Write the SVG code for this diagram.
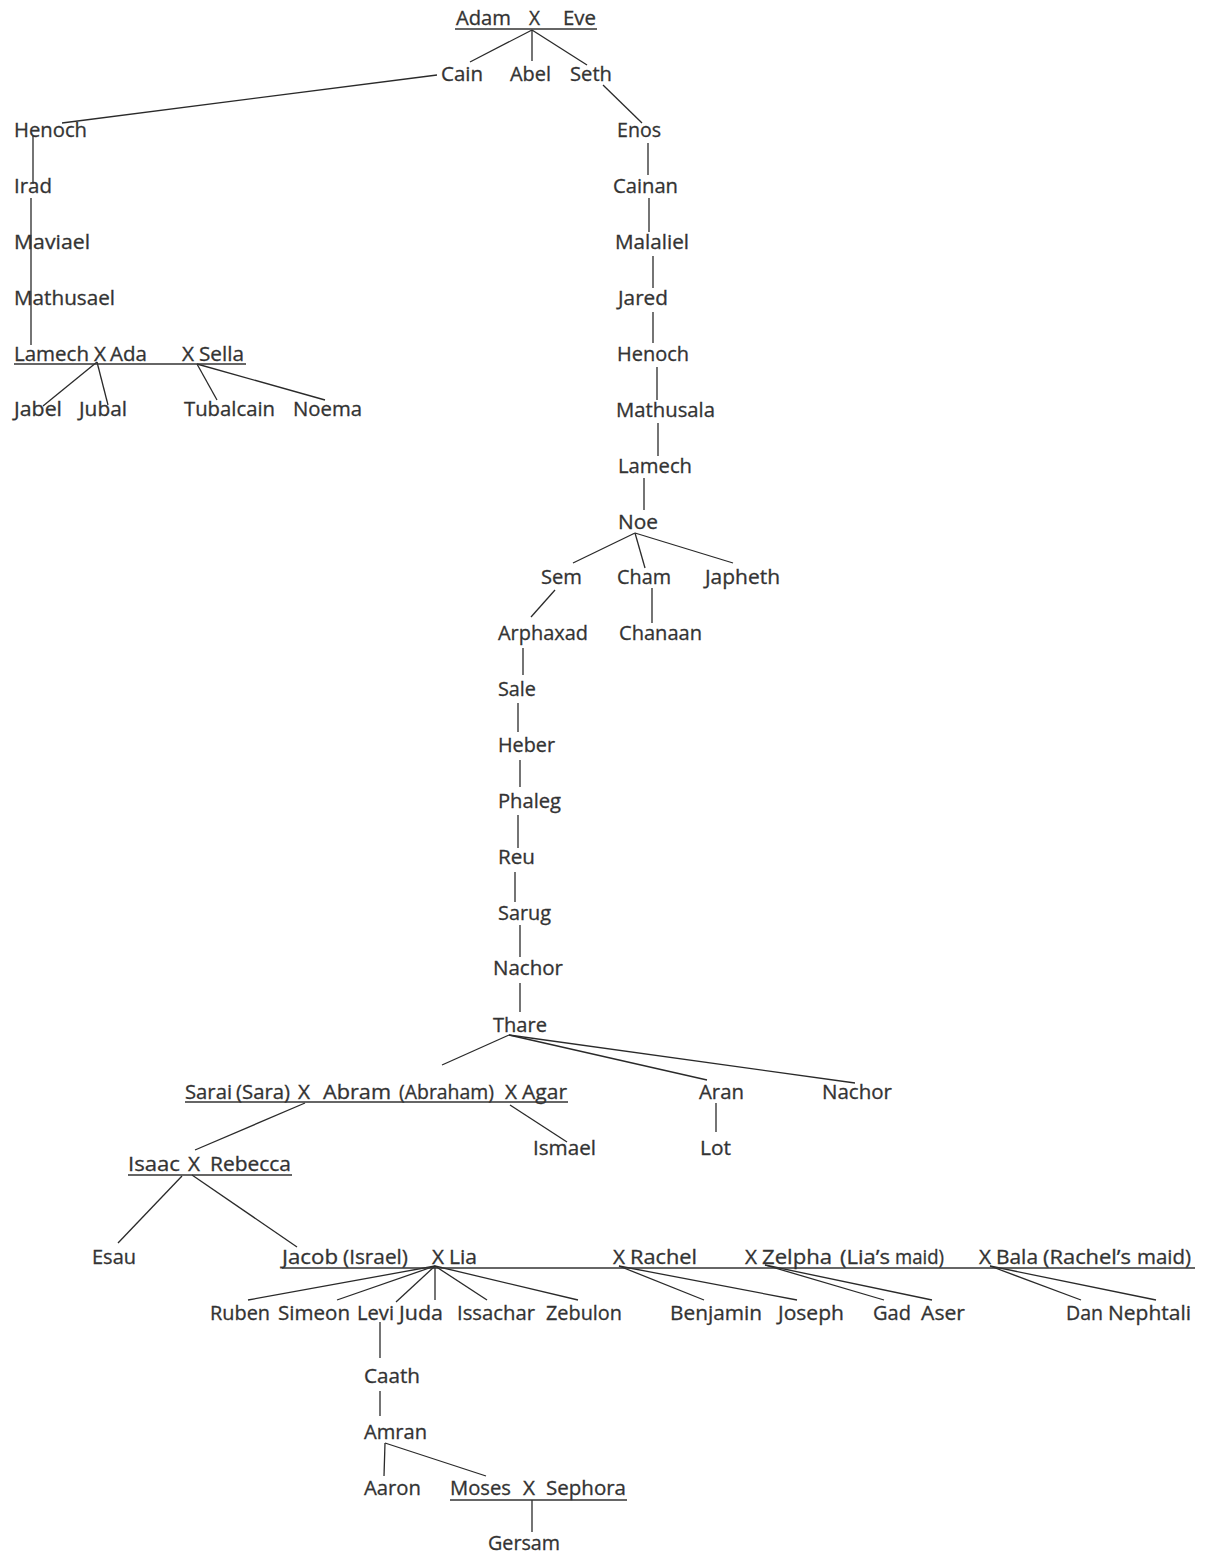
<svg xmlns="http://www.w3.org/2000/svg" width="1205" height="1557" viewBox="0 0 1205 1557">
<style>
text{font-family:"Open Sans","Liberation Sans",sans-serif;font-size:19.5px;fill:#333;stroke:#333;stroke-width:0.3}
.c line{stroke:#2a2a2a;stroke-width:1.3;fill:none}
.u{stroke:#333;stroke-width:1.6}
</style>
<rect width="1205" height="1557" fill="#fff"/>
<g class="c" id="connectors">
<line x1="532" y1="30" x2="470" y2="62"/>
<line x1="532" y1="30" x2="532" y2="61"/>
<line x1="532" y1="30" x2="587" y2="65"/>
<line x1="437" y1="75" x2="62" y2="123"/>
<line x1="33" y1="136" x2="33" y2="184"/>
<line x1="31" y1="198" x2="31" y2="345"/>
<line x1="97" y1="362" x2="43" y2="406"/>
<line x1="97" y1="362" x2="108" y2="405"/>
<line x1="197" y1="364" x2="217" y2="400"/>
<line x1="197" y1="364" x2="325" y2="400"/>
<line x1="603" y1="85" x2="642" y2="123"/>
<line x1="648" y1="143" x2="648" y2="175"/>
<line x1="649" y1="198" x2="649" y2="232"/>
<line x1="653" y1="256" x2="653" y2="288"/>
<line x1="653" y1="312" x2="653" y2="343"/>
<line x1="657" y1="367" x2="657" y2="400"/>
<line x1="658" y1="423" x2="658" y2="456"/>
<line x1="644" y1="478" x2="644" y2="510"/>
<line x1="635" y1="533" x2="573" y2="563"/>
<line x1="635" y1="533" x2="645" y2="568"/>
<line x1="635" y1="533" x2="733" y2="563"/>
<line x1="652" y1="588" x2="652" y2="623"/>
<line x1="555" y1="590" x2="531" y2="617"/>
<line x1="523" y1="648" x2="523" y2="675"/>
<line x1="518" y1="703" x2="518" y2="732"/>
<line x1="520" y1="760" x2="520" y2="787"/>
<line x1="518" y1="815" x2="518" y2="848"/>
<line x1="515" y1="872" x2="515" y2="902"/>
<line x1="520" y1="925" x2="520" y2="957"/>
<line x1="520" y1="983" x2="520" y2="1012"/>
<line x1="509" y1="1035" x2="442" y2="1065"/>
<line x1="509" y1="1035" x2="707" y2="1080"/>
<line x1="509" y1="1035" x2="855" y2="1083"/>
<line x1="305" y1="1103" x2="195" y2="1150"/>
<line x1="510" y1="1105" x2="567" y2="1142"/>
<line x1="716" y1="1103" x2="716" y2="1132"/>
<line x1="182" y1="1176" x2="118" y2="1243"/>
<line x1="192" y1="1175" x2="297" y2="1247"/>
<line x1="435" y1="1266" x2="248" y2="1300"/>
<line x1="435" y1="1266" x2="337" y2="1300"/>
<line x1="435" y1="1266" x2="396" y2="1302"/>
<line x1="435" y1="1266" x2="435" y2="1300"/>
<line x1="435" y1="1266" x2="487" y2="1300"/>
<line x1="435" y1="1266" x2="578" y2="1300"/>
<line x1="619" y1="1266" x2="704" y2="1300"/>
<line x1="619" y1="1266" x2="797" y2="1300"/>
<line x1="765" y1="1265" x2="884" y2="1300"/>
<line x1="765" y1="1265" x2="932" y2="1300"/>
<line x1="990" y1="1266" x2="1081" y2="1300"/>
<line x1="990" y1="1266" x2="1156" y2="1300"/>
<line x1="380" y1="1322" x2="380" y2="1358"/>
<line x1="380" y1="1391" x2="380" y2="1416"/>
<line x1="385" y1="1443" x2="384" y2="1476"/>
<line x1="385" y1="1443" x2="486" y2="1476"/>
<line x1="532" y1="1500" x2="532" y2="1532"/>
</g>
<g id="adam-eve"><text x="456" y="25" textLength="55" lengthAdjust="spacingAndGlyphs">Adam</text><text x="529" y="25" textLength="11" lengthAdjust="spacingAndGlyphs">X</text><text x="563" y="25" textLength="33" lengthAdjust="spacingAndGlyphs">Eve</text><line class="u" x1="455" y1="29" x2="597" y2="29"/></g>
<g id="cain"><text x="441" y="81" textLength="42" lengthAdjust="spacingAndGlyphs">Cain</text></g>
<g id="abel"><text x="510" y="81" textLength="41" lengthAdjust="spacingAndGlyphs">Abel</text></g>
<g id="seth"><text x="570" y="81" textLength="42" lengthAdjust="spacingAndGlyphs">Seth</text></g>
<g id="henoch1"><text x="14" y="137" textLength="73" lengthAdjust="spacingAndGlyphs">Henoch</text></g>
<g id="irad"><text x="14" y="193" textLength="38" lengthAdjust="spacingAndGlyphs">Irad</text></g>
<g id="maviael"><text x="14" y="249" textLength="76" lengthAdjust="spacingAndGlyphs">Maviael</text></g>
<g id="mathusael"><text x="14" y="305" textLength="101" lengthAdjust="spacingAndGlyphs">Mathusael</text></g>
<g id="lamech1"><text x="14" y="361" textLength="75" lengthAdjust="spacingAndGlyphs">Lamech</text><text x="94" y="361" textLength="12" lengthAdjust="spacingAndGlyphs">X</text><text x="110" y="361" textLength="37" lengthAdjust="spacingAndGlyphs">Ada</text><text x="182" y="361" textLength="12" lengthAdjust="spacingAndGlyphs">X</text><text x="199" y="361" textLength="45" lengthAdjust="spacingAndGlyphs">Sella</text><line class="u" x1="14" y1="364" x2="246" y2="364"/></g>
<g id="jabel"><text x="14" y="416" textLength="48" lengthAdjust="spacingAndGlyphs">Jabel</text></g>
<g id="jubal"><text x="79" y="416" textLength="48" lengthAdjust="spacingAndGlyphs">Jubal</text></g>
<g id="tubalcain"><text x="184" y="416" textLength="91" lengthAdjust="spacingAndGlyphs">Tubalcain</text></g>
<g id="noema"><text x="293" y="416" textLength="69" lengthAdjust="spacingAndGlyphs">Noema</text></g>
<g id="enos"><text x="617" y="137" textLength="44" lengthAdjust="spacingAndGlyphs">Enos</text></g>
<g id="cainan"><text x="613" y="193" textLength="65" lengthAdjust="spacingAndGlyphs">Cainan</text></g>
<g id="malaliel"><text x="615" y="249" textLength="74" lengthAdjust="spacingAndGlyphs">Malaliel</text></g>
<g id="jared"><text x="618" y="305" textLength="50" lengthAdjust="spacingAndGlyphs">Jared</text></g>
<g id="henoch2"><text x="617" y="361" textLength="72" lengthAdjust="spacingAndGlyphs">Henoch</text></g>
<g id="mathusala"><text x="616" y="417" textLength="99" lengthAdjust="spacingAndGlyphs">Mathusala</text></g>
<g id="lamech2"><text x="618" y="473" textLength="74" lengthAdjust="spacingAndGlyphs">Lamech</text></g>
<g id="noe"><text x="618" y="529" textLength="40" lengthAdjust="spacingAndGlyphs">Noe</text></g>
<g id="sem"><text x="541" y="584" textLength="41" lengthAdjust="spacingAndGlyphs">Sem</text></g>
<g id="cham"><text x="617" y="584" textLength="54" lengthAdjust="spacingAndGlyphs">Cham</text></g>
<g id="japheth"><text x="705" y="584" textLength="75" lengthAdjust="spacingAndGlyphs">Japheth</text></g>
<g id="chanaan"><text x="619" y="640" textLength="83" lengthAdjust="spacingAndGlyphs">Chanaan</text></g>
<g id="arphaxad"><text x="498" y="640" textLength="90" lengthAdjust="spacingAndGlyphs">Arphaxad</text></g>
<g id="sale"><text x="498" y="696" textLength="38" lengthAdjust="spacingAndGlyphs">Sale</text></g>
<g id="heber"><text x="498" y="752" textLength="57" lengthAdjust="spacingAndGlyphs">Heber</text></g>
<g id="phaleg"><text x="498" y="808" textLength="63" lengthAdjust="spacingAndGlyphs">Phaleg</text></g>
<g id="reu"><text x="498" y="864" textLength="37" lengthAdjust="spacingAndGlyphs">Reu</text></g>
<g id="sarug"><text x="498" y="920" textLength="53" lengthAdjust="spacingAndGlyphs">Sarug</text></g>
<g id="nachor1"><text x="493" y="975" textLength="70" lengthAdjust="spacingAndGlyphs">Nachor</text></g>
<g id="thare"><text x="493" y="1032" textLength="54" lengthAdjust="spacingAndGlyphs">Thare</text></g>
<g id="abram"><text x="185" y="1099" textLength="47" lengthAdjust="spacingAndGlyphs">Sarai</text><text x="236" y="1099" textLength="54" lengthAdjust="spacingAndGlyphs">(Sara)</text><text x="298" y="1099" textLength="12" lengthAdjust="spacingAndGlyphs">X</text><text x="323" y="1099" textLength="68" lengthAdjust="spacingAndGlyphs">Abram</text><text x="399" y="1099" textLength="95" lengthAdjust="spacingAndGlyphs">(Abraham)</text><text x="505" y="1099" textLength="12" lengthAdjust="spacingAndGlyphs">X</text><text x="522" y="1099" textLength="45" lengthAdjust="spacingAndGlyphs">Agar</text><line class="u" x1="185" y1="1102" x2="568" y2="1102"/></g>
<g id="aran"><text x="699" y="1099" textLength="45" lengthAdjust="spacingAndGlyphs">Aran</text></g>
<g id="nachor2"><text x="822" y="1099" textLength="70" lengthAdjust="spacingAndGlyphs">Nachor</text></g>
<g id="ismael"><text x="533" y="1155" textLength="63" lengthAdjust="spacingAndGlyphs">Ismael</text></g>
<g id="lot"><text x="700" y="1155" textLength="31" lengthAdjust="spacingAndGlyphs">Lot</text></g>
<g id="isaac"><text x="128" y="1171" textLength="52" lengthAdjust="spacingAndGlyphs">Isaac</text><text x="188" y="1171" textLength="12" lengthAdjust="spacingAndGlyphs">X</text><text x="210" y="1171" textLength="81" lengthAdjust="spacingAndGlyphs">Rebecca</text><line class="u" x1="128" y1="1175" x2="292" y2="1175"/></g>
<g id="esau"><text x="92" y="1264" textLength="44" lengthAdjust="spacingAndGlyphs">Esau</text></g>
<g id="jacob"><text x="282" y="1264" textLength="56" lengthAdjust="spacingAndGlyphs">Jacob</text><text x="343" y="1264" textLength="65" lengthAdjust="spacingAndGlyphs">(Israel)</text><text x="432" y="1264" textLength="12" lengthAdjust="spacingAndGlyphs">X</text><text x="449" y="1264" textLength="28" lengthAdjust="spacingAndGlyphs">Lia</text><text x="613" y="1264" textLength="12" lengthAdjust="spacingAndGlyphs">X</text><text x="630" y="1264" textLength="67" lengthAdjust="spacingAndGlyphs">Rachel</text><text x="745" y="1264" textLength="12" lengthAdjust="spacingAndGlyphs">X</text><text x="762" y="1264" textLength="70" lengthAdjust="spacingAndGlyphs">Zelpha</text><text x="840" y="1264" textLength="50" lengthAdjust="spacingAndGlyphs">(Lia&#8217;s</text><text x="895" y="1264" textLength="49" lengthAdjust="spacingAndGlyphs">maid)</text><text x="979" y="1264" textLength="12" lengthAdjust="spacingAndGlyphs">X</text><text x="996" y="1264" textLength="42" lengthAdjust="spacingAndGlyphs">Bala</text><text x="1043" y="1264" textLength="88" lengthAdjust="spacingAndGlyphs">(Rachel&#8217;s</text><text x="1137" y="1264" textLength="54" lengthAdjust="spacingAndGlyphs">maid)</text><line class="u" x1="282" y1="1268" x2="1195" y2="1268"/></g>
<g id="ruben"><text x="210" y="1320" textLength="60" lengthAdjust="spacingAndGlyphs">Ruben</text></g>
<g id="simeon"><text x="278" y="1320" textLength="72" lengthAdjust="spacingAndGlyphs">Simeon</text></g>
<g id="levi"><text x="357" y="1320" textLength="37" lengthAdjust="spacingAndGlyphs">Levi</text></g>
<g id="juda"><text x="399" y="1320" textLength="44" lengthAdjust="spacingAndGlyphs">Juda</text></g>
<g id="issachar"><text x="457" y="1320" textLength="78" lengthAdjust="spacingAndGlyphs">Issachar</text></g>
<g id="zebulon"><text x="546" y="1320" textLength="76" lengthAdjust="spacingAndGlyphs">Zebulon</text></g>
<g id="benjamin"><text x="670" y="1320" textLength="92" lengthAdjust="spacingAndGlyphs">Benjamin</text></g>
<g id="joseph"><text x="778" y="1320" textLength="66" lengthAdjust="spacingAndGlyphs">Joseph</text></g>
<g id="gad"><text x="873" y="1320" textLength="38" lengthAdjust="spacingAndGlyphs">Gad</text></g>
<g id="aser"><text x="921" y="1320" textLength="44" lengthAdjust="spacingAndGlyphs">Aser</text></g>
<g id="dan"><text x="1066" y="1320" textLength="37" lengthAdjust="spacingAndGlyphs">Dan</text></g>
<g id="nephtali"><text x="1108" y="1320" textLength="83" lengthAdjust="spacingAndGlyphs">Nephtali</text></g>
<g id="caath"><text x="364" y="1383" textLength="56" lengthAdjust="spacingAndGlyphs">Caath</text></g>
<g id="amran"><text x="364" y="1439" textLength="63" lengthAdjust="spacingAndGlyphs">Amran</text></g>
<g id="aaron"><text x="364" y="1495" textLength="57" lengthAdjust="spacingAndGlyphs">Aaron</text></g>
<g id="moses"><text x="450" y="1495" textLength="61" lengthAdjust="spacingAndGlyphs">Moses</text><text x="523" y="1495" textLength="12" lengthAdjust="spacingAndGlyphs">X</text><text x="546" y="1495" textLength="80" lengthAdjust="spacingAndGlyphs">Sephora</text><line class="u" x1="450" y1="1500" x2="627" y2="1500"/></g>
<g id="gersam"><text x="488" y="1550" textLength="72" lengthAdjust="spacingAndGlyphs">Gersam</text></g>
</svg>
